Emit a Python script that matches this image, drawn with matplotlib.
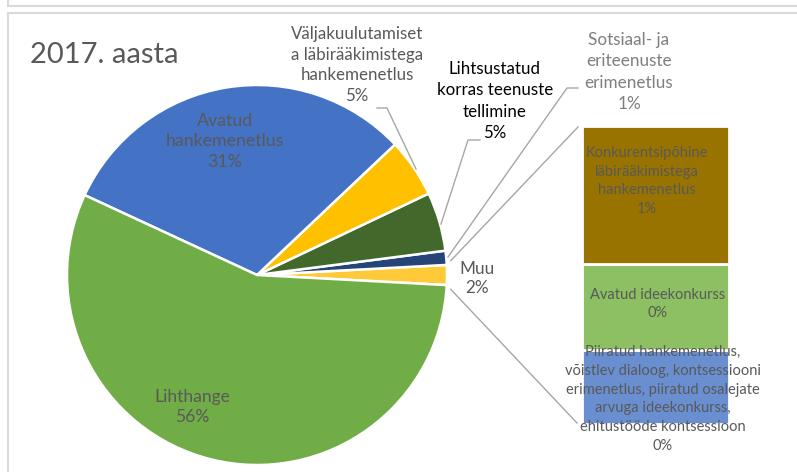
import matplotlib
matplotlib.use("Agg")
import matplotlib.pyplot as plt
import numpy as np

plt.rcParams['font.family'] = ['Lato', 'DejaVu Sans']

# ---- data ----
title = "2017. aasta"
pie_labels = ["Muu", "Sotsiaal- ja\neriteenuste\nerimenetlus",
              "Lihtsustatud\nkorras teenuste\ntellimine",
              "Väljakuulutamiset\na läbirääkimistega\nhankemenetlus",
              "Avatud\nhankemenetlus", "Lihthange"]
pie_values = [None, 1.2, 5.0, 5.0, 31.0, 56.0]  # Muu filled from bar values
bar_labels = ["Piiratud hankemenetlus,\nvõistlev dialoog, kontsessiooni\nerimenetlus, piiratud osalejate\narvuga ideekonkurss,\nehitustööde kontsessioon",
              "Avatud ideekonkurss",
              "Konkurentsipõhine\nläbirääkimistega\nhankemenetlus"]
bar_values = [0.42, 0.49, 0.78]

pie_colors = ["#FFCA3A", "#264478", "#43682B", "#FFC000", "#4472C4", "#70AD47"]
bar_colors = ["#6A8FD0", "#8CC063", "#997300"]

muu = sum(bar_values)
pie_values[0] = muu
total = sum(pie_values)
def pct(v):
    return f"{int(round(v / total * 100))}%"

W, H = 797, 472
fig = plt.figure(figsize=(W / 100, H / 100), dpi=100)
ax = fig.add_axes([0, 0, 1, 1])
ax.set_xlim(0, W)
ax.set_ylim(0, H)
ax.set_aspect('equal')
ax.axis('off')

def Y(py):
    return H - py

# frame lines
fc = "#D9D9D9"
ax.plot([8, 8], [Y(0), Y(5.5)], color=fc, lw=1.5, solid_capstyle='butt')
ax.plot([8, W], [Y(5.5), Y(5.5)], color=fc, lw=1.5)
ax.plot([8, W], [Y(12.5), Y(12.5)], color=fc, lw=1.5)
ax.plot([8, 8], [Y(12.5), Y(H)], color=fc, lw=1.5, solid_capstyle='butt')

# pie
cx, cy, R = 257, Y(275), 190
half = 360 * muu / total / 2
wedges, _ = ax.pie(pie_values, colors=pie_colors, startangle=-half, counterclock=True,
                   center=(cx, cy), radius=R,
                   wedgeprops=dict(edgecolor="white", linewidth=1.8))
ax.set_xlim(0, W)
ax.set_ylim(0, H)

# bar of "Muu"
bx0, bx1 = 582, 729
btop, bbot = Y(126), Y(424)
scale = (btop - bbot) / muu
bottom = bbot
for v, c in zip(bar_values, bar_colors):
    ax.bar((bx0 + bx1) / 2, v * scale, width=bx1 - bx0, bottom=bottom, color=c,
           edgecolor="white", linewidth=2.0)
    bottom += v * scale

# connectors
lc = "#A6A6A6"
a = np.deg2rad(half)
ax.plot([cx + (R + 4) * np.cos(a), 578], [cy + (R + 4) * np.sin(a) + 4, Y(127)], color=lc, lw=1.0)
ax.plot([cx + (R + 4) * np.cos(-a), 577], [cy + (R + 4) * np.sin(-a) - 4, Y(423)], color=lc, lw=1.0)

# leader lines
ax.plot([377, 387, 416], [Y(108), Y(108), Y(169)], color=lc, lw=1.0)
ax.plot([480, 468, 441], [Y(140), Y(140), Y(224)], color=lc, lw=1.0)
ax.plot([578, 567, 448], [Y(88), Y(88), Y(257)], color=lc, lw=1.0)

tc = "#595959"
ax.text(30, Y(55), title, fontsize=21, color=tc, ha='left', va='center')

def lab(x, y, s, color=tc, size=12, lsp=1.42, **kw):
    ax.text(x, Y(y), s, ha='center', va='center', color=color, fontsize=size,
            linespacing=lsp, **kw)

lab(357, 65, pie_labels[3] + "\n" + pct(pie_values[3]), size=12.2, lsp=1.38)
lab(495, 101, pie_labels[2] + "\n" + pct(pie_values[2]), color="black", size=12.2, lsp=1.4)
lab(629, 72, pie_labels[1] + "\n" + pct(pie_values[1]), color="#7F7F7F", size=12.3, lsp=1.4)
lab(477, 278.5, pie_labels[0] + "\n" + pct(pie_values[0]), size=12.3, lsp=1.3)
lab(225, 141.5, pie_labels[4] + "\n" + pct(pie_values[4]), size=12.8, lsp=1.38)
lab(192, 407, pie_labels[5] + "\n" + pct(pie_values[5]), size=12.6, lsp=1.3)

bfs = 10.5
bls = 1.45
lab(647, 181, bar_labels[2] + "\n" + pct(bar_values[2]), size=bfs, lsp=bls)
lab(658, 304, bar_labels[1] + "\n" + pct(bar_values[1]), size=bfs, lsp=bls)
lab(663, 399, bar_labels[0] + "\n" + pct(bar_values[0]), size=bfs, lsp=bls)

fig.savefig("out.png", dpi=100)
